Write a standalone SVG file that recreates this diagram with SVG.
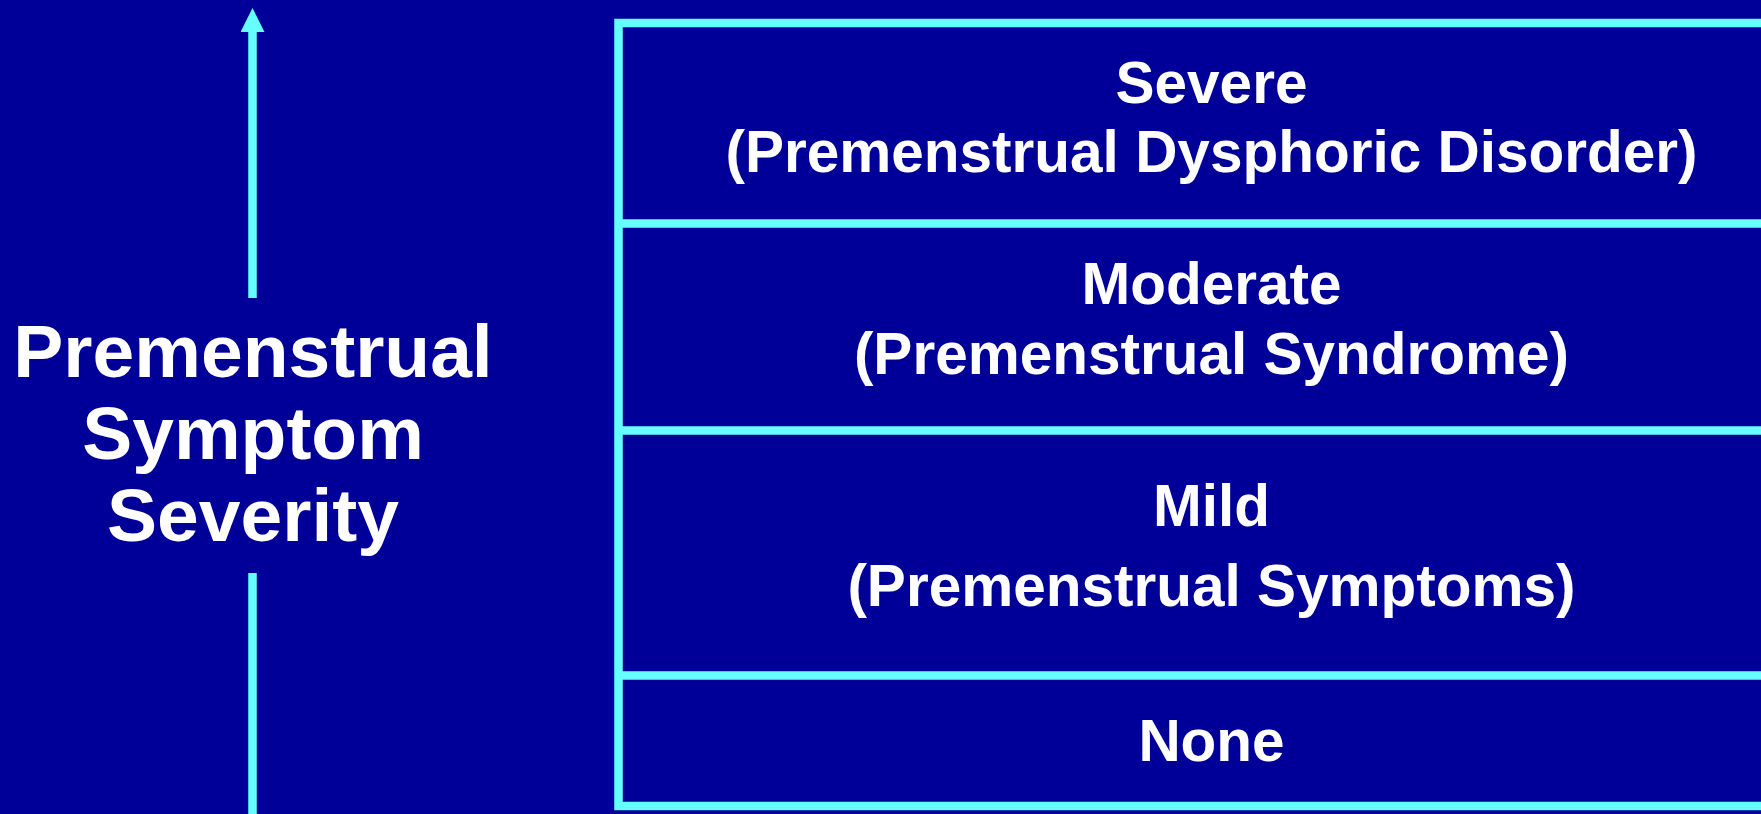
<svg xmlns="http://www.w3.org/2000/svg" width="1761" height="814" viewBox="0 0 1761 814">
<style>
.bg{fill:#000099}
.ln{stroke:#66FFFF;stroke-width:8.5;fill:none}
.t{font-family:"Liberation Sans",Arial,sans-serif;font-weight:bold;fill:#FFFFFF;text-anchor:middle}
.big{font-size:75px}
.lbl{font-size:58.5px}
</style>
<defs>
<marker id="ah" markerUnits="userSpaceOnUse" viewBox="0 0 24 24" markerWidth="24" markerHeight="24" refX="0" refY="12" orient="auto">
<path d="M0,0 L24,12 L0,24 z" fill="#66FFFF"/>
</marker>
</defs>
<rect class="bg" x="0" y="0" width="1761" height="814"/>
<g id="connectors">
<line class="ln" x1="252.5" y1="298" x2="252.5" y2="32" marker-end="url(#ah)"/>
<line class="ln" x1="252.5" y1="573" x2="252.5" y2="814"/>
</g>
<g id="axis-label">
<text class="t big" x="253" y="377">Premenstrual</text>
<text class="t big" x="253" y="459">Symptom</text>
<text class="t big" x="253" y="541">Severity</text>
</g>
<g id="scale-frame">
<polyline class="ln" points="1770,23 618.5,23 618.5,806 1770,806"/>
</g>
<g id="severe">
<line class="ln" x1="618.5" y1="223.5" x2="1770" y2="223.5"/>
<text class="t lbl" x="1211.5" y="103">Severe</text>
<text class="t lbl" x="1211.5" y="172">(Premenstrual Dysphoric Disorder)</text>
</g>
<g id="moderate">
<line class="ln" x1="618.5" y1="430.5" x2="1770" y2="430.5"/>
<text class="t lbl" x="1211.5" y="304">Moderate</text>
<text class="t lbl" x="1211.5" y="374">(Premenstrual Syndrome)</text>
</g>
<g id="mild">
<line class="ln" x1="618.5" y1="675.5" x2="1770" y2="675.5"/>
<text class="t lbl" x="1211.5" y="526">Mild</text>
<text class="t lbl" x="1211.5" y="606">(Premenstrual Symptoms)</text>
</g>
<g id="none">
<text class="t lbl" x="1211.5" y="761">None</text>
</g>
</svg>
